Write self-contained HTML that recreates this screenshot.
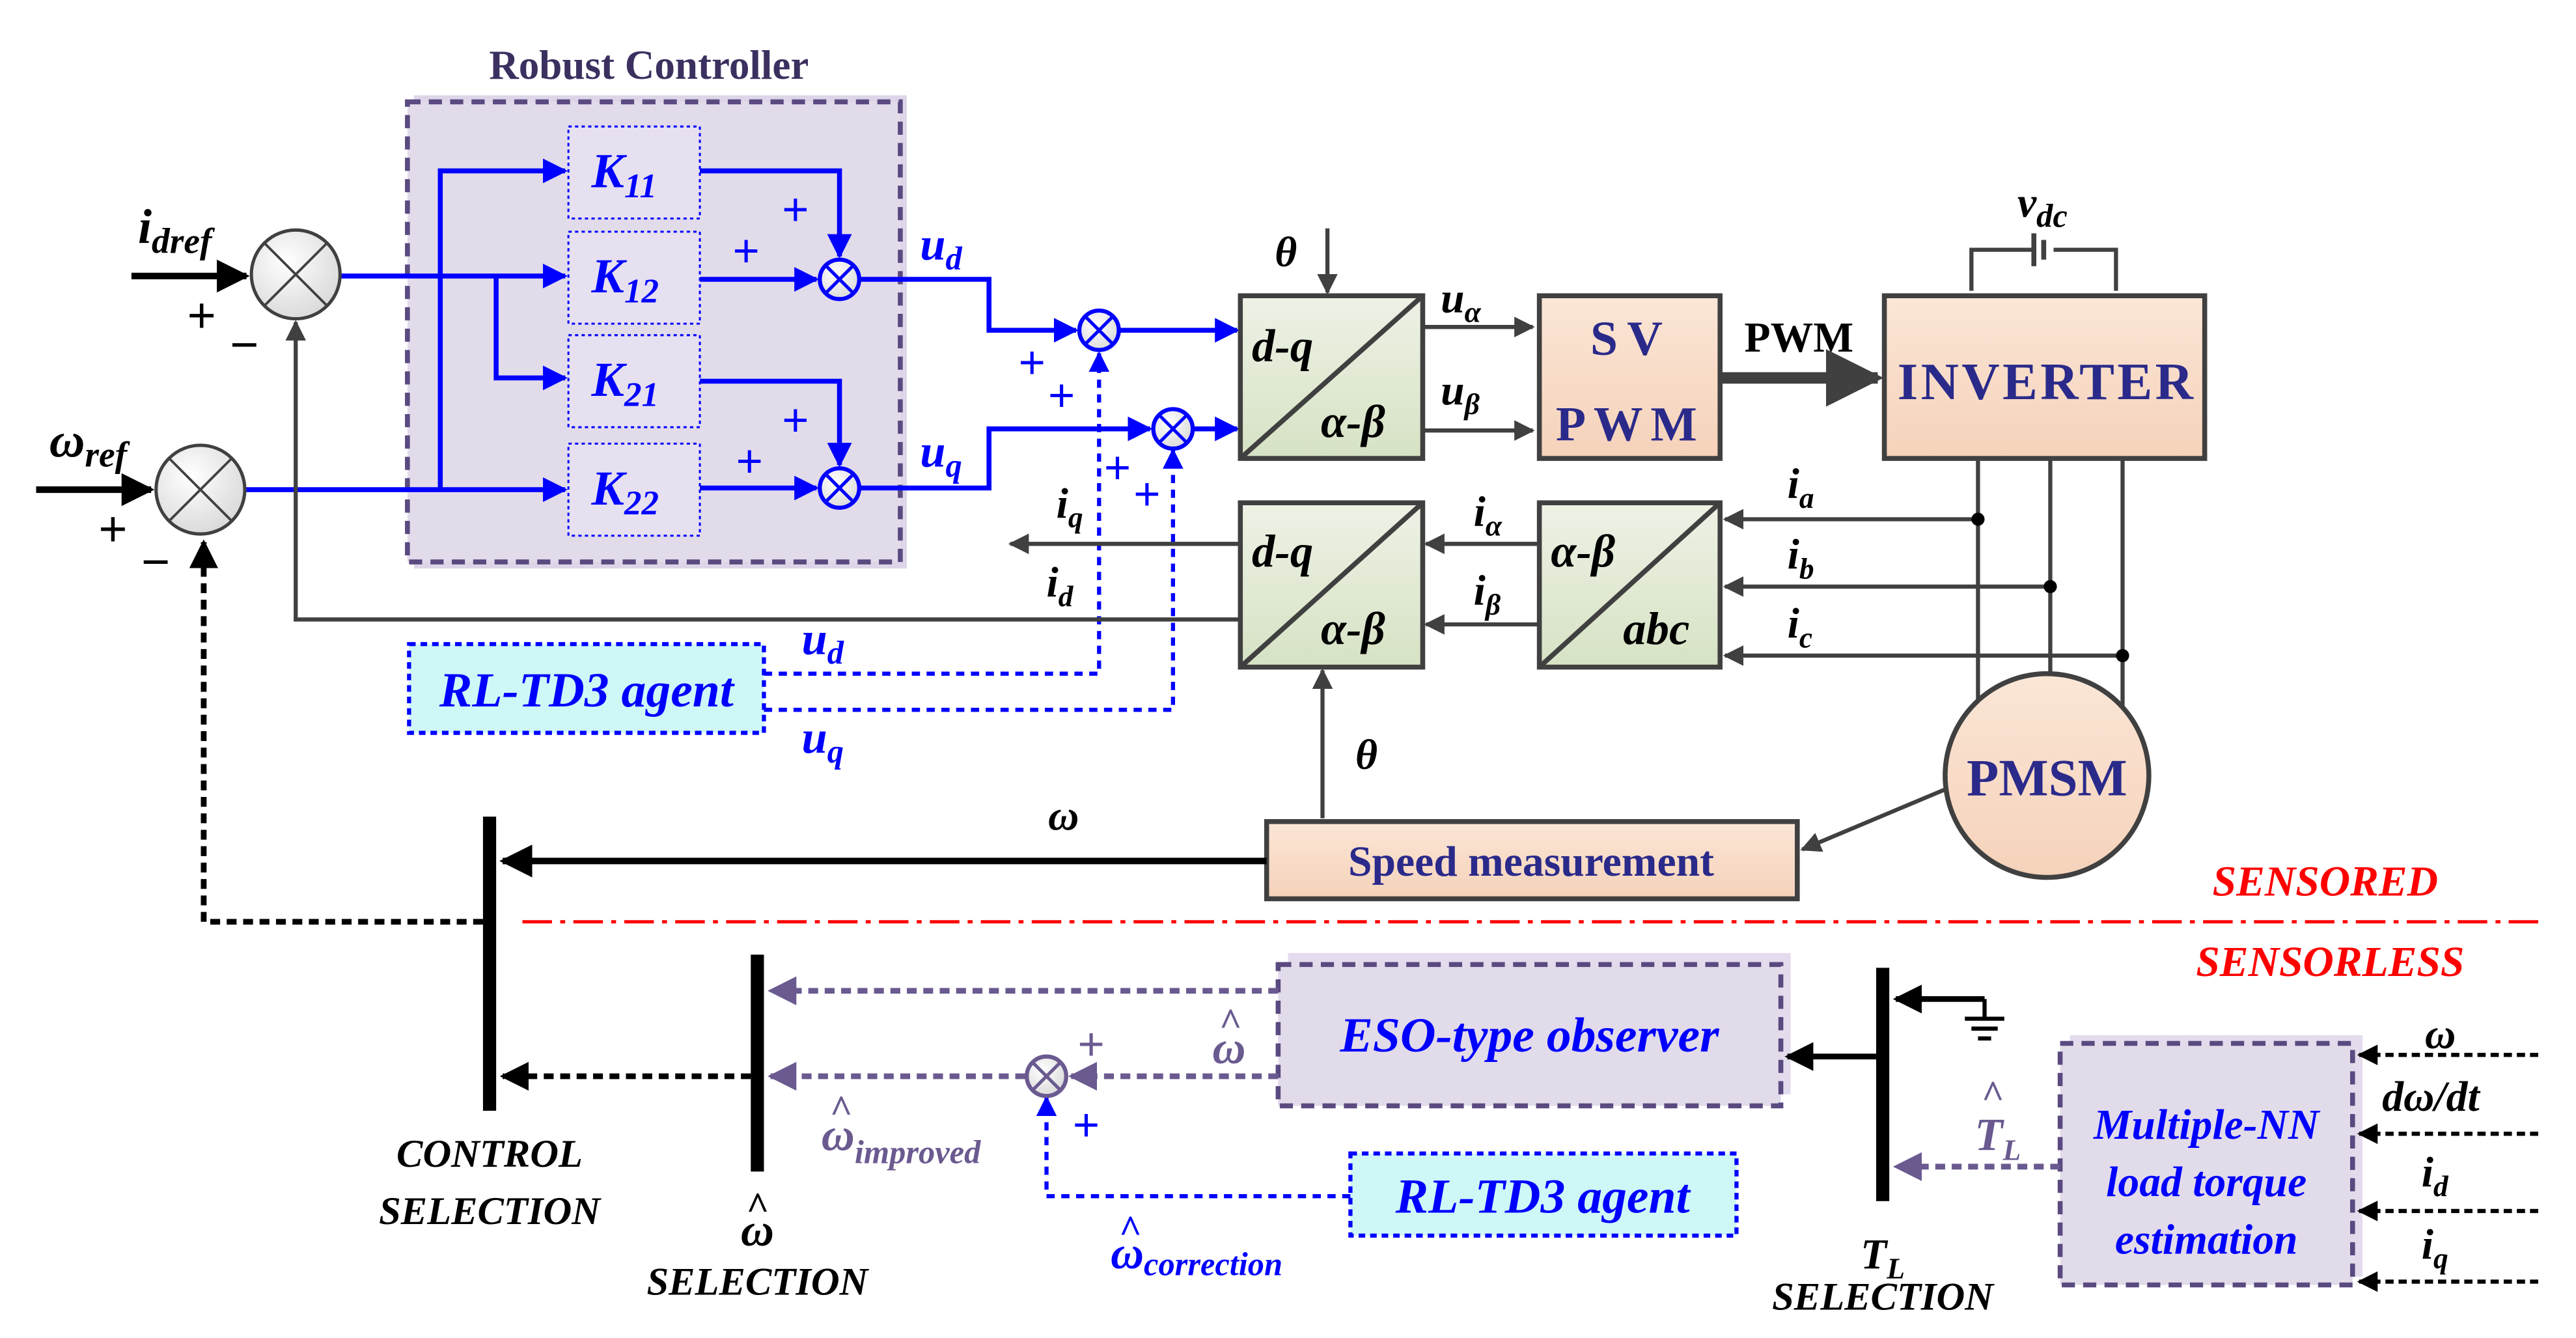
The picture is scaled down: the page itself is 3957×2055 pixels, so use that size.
<!DOCTYPE html>
<html><head><meta charset="utf-8"><style>html,body{margin:0;padding:0;background:#fff}svg{display:block}</style></head><body>
<svg width="3957" height="2055" viewBox="0 0 1568 814.3" preserveAspectRatio="none" xmlns="http://www.w3.org/2000/svg" font-family="Liberation Serif, serif">
<defs>
<marker id="ab" viewBox="0 0 10 10" refX="9" refY="5" markerWidth="5" markerHeight="5" orient="auto" markerUnits="strokeWidth"><path d="M0,0L10,5L0,10z" fill="#0000ff"/></marker>
<marker id="ak" viewBox="0 0 10 10" refX="9" refY="5" markerWidth="5" markerHeight="5" orient="auto" markerUnits="strokeWidth"><path d="M0,0L10,5L0,10z" fill="#000"/></marker>
<marker id="ag" viewBox="0 0 10 10" refX="9" refY="5" markerWidth="5" markerHeight="5" orient="auto" markerUnits="strokeWidth"><path d="M0,0L10,5L0,10z" fill="#404040"/></marker>
<marker id="ap" viewBox="0 0 10 10" refX="9" refY="5" markerWidth="5" markerHeight="5" orient="auto" markerUnits="strokeWidth"><path d="M0,0L10,5L0,10z" fill="#6a5a90"/></marker>
<linearGradient id="gg" x1="0" y1="0" x2="0" y2="1"><stop offset="0" stop-color="#eef2e6"/><stop offset="1" stop-color="#d6e2c4"/></linearGradient>
<linearGradient id="og" x1="0" y1="0" x2="0" y2="1"><stop offset="0" stop-color="#fbe6d6"/><stop offset="1" stop-color="#f5d2ba"/></linearGradient>
<radialGradient id="cg" cx="0.4" cy="0.35" r="0.7"><stop offset="0" stop-color="#ffffff"/><stop offset="1" stop-color="#d8d8d8"/></radialGradient>
</defs>

<text x="395" y="48" font-size="25" font-weight="bold" fill="#3c3060" text-anchor="middle">Robust Controller</text>
<rect x="252" y="58" width="300" height="288" fill="#ddd6e8"/>
<rect x="248" y="62" width="300" height="280" fill="#e2dbea" stroke="#5a4a80" stroke-width="3" stroke-dasharray="8,5"/>
<g font-size="30" font-weight="bold" font-style="italic" fill="#0000ff">
<rect x="346" y="77" width="80" height="56" fill="#e6e0f0" stroke="#0000ff" stroke-width="1.2" stroke-dasharray="2,2"/>
<text x="360" y="114">K<tspan font-size="21" dy="6">11</tspan></text>
<rect x="346" y="141" width="80" height="56" fill="#e6e0f0" stroke="#0000ff" stroke-width="1.2" stroke-dasharray="2,2"/>
<text x="360" y="178">K<tspan font-size="21" dy="6">12</tspan></text>
<rect x="346" y="204" width="80" height="56" fill="#e6e0f0" stroke="#0000ff" stroke-width="1.2" stroke-dasharray="2,2"/>
<text x="360" y="241">K<tspan font-size="21" dy="6">21</tspan></text>
<rect x="346" y="270" width="80" height="56" fill="#e6e0f0" stroke="#0000ff" stroke-width="1.2" stroke-dasharray="2,2"/>
<text x="360" y="307">K<tspan font-size="21" dy="6">22</tspan></text>
</g>

<g stroke="#0000ff" stroke-width="3" fill="none">
<path d="M207,168H344" marker-end="url(#ab)"/>
<path d="M268,298V104H344" marker-end="url(#ab)"/>
<path d="M302,168V230H344" marker-end="url(#ab)"/>
<path d="M149,298H344" marker-end="url(#ab)"/>
<path d="M426,104H511V156" marker-end="url(#ab)"/>
<path d="M426,170H497" marker-end="url(#ab)"/>
<path d="M426,232H511V283" marker-end="url(#ab)"/>
<path d="M426,297H497" marker-end="url(#ab)"/>
<path d="M523,170H602V201H655" marker-end="url(#ab)"/>
<path d="M523,297H602V261H700" marker-end="url(#ab)"/>
<path d="M681,201H753" marker-end="url(#ab)"/>
<path d="M726,261H753" marker-end="url(#ab)"/>
</g>
<g stroke="#0000ff" stroke-width="2.5" fill="none" stroke-dasharray="5,4">
<path d="M465,410H669V215" marker-end="url(#ab)"/>
<path d="M465,432H714V274" marker-end="url(#ab)"/>
<path d="M822,728H637V668" marker-end="url(#ab)"/>
</g>
<g font-size="28" fill="#0000ff" font-family="Liberation Sans, sans-serif">
<text x="476" y="137">+</text><text x="446" y="162">+</text>
<text x="476" y="265">+</text><text x="448" y="290">+</text>
<text x="620" y="230">+</text><text x="638" y="250">+</text>
<text x="672" y="294">+</text><text x="690" y="310">+</text>
<text x="653" y="694">+</text>
</g>

<g stroke="#0000ff" stroke-width="2.5" fill="url(#cg)">
<circle cx="511" cy="170" r="12"/><circle cx="511" cy="297" r="12"/>
<circle cx="669" cy="201" r="12"/><circle cx="714" cy="261" r="12"/>
</g>
<g stroke="#0000ff" stroke-width="2">
<path d="M503,162L519,178M519,162L503,178M503,289L519,305M519,289L503,305M661,193L677,209M677,193L661,209M706,253L722,269M722,253L706,269"/>
</g>

<g stroke="#404040" stroke-width="2" fill="url(#cg)">
<circle cx="180" cy="167" r="27"/><circle cx="122" cy="298" r="27"/>
</g>
<path d="M161,148L199,186M199,148L161,186M103,279L141,317M141,279L103,317" stroke="#404040" stroke-width="1.5"/>
<path d="M80,168H150" stroke="#000" stroke-width="4" marker-end="url(#ak)"/>
<path d="M22,298H92" stroke="#000" stroke-width="4" marker-end="url(#ak)"/>
<g font-size="30" font-weight="bold" font-style="italic">
<text x="84" y="148">i<tspan font-size="22" dy="6">dref</tspan></text>
<text x="30" y="278">ω<tspan font-size="22" dy="6">ref</tspan></text>
</g>
<g font-size="30" font-family="Liberation Sans, sans-serif"><text x="114" y="202">+</text><text x="140" y="220">−</text><text x="60" y="332">+</text><text x="86" y="352">−</text></g>

<g stroke="#404040" stroke-width="2.5" fill="none">
<path d="M755,377H180V196" marker-end="url(#ag)"/>
<path d="M755,331H615" marker-end="url(#ag)"/>
<path d="M808,139V178" marker-end="url(#ag)"/>
<path d="M805,498V408" marker-end="url(#ag)"/>
<path d="M866,199H933" marker-end="url(#ag)"/>
<path d="M866,262H933" marker-end="url(#ag)"/>
<path d="M937,331H868" marker-end="url(#ag)"/>
<path d="M937,380H868" marker-end="url(#ag)"/>
<path d="M1204,316H1050" marker-end="url(#ag)"/>
<path d="M1248,357H1050" marker-end="url(#ag)"/>
<path d="M1292,399H1050" marker-end="url(#ag)"/>
<path d="M1204,279V440M1248,279V412M1292,279V440"/>
<path d="M1200,177V152H1238M1250,152H1288V177"/>
<path d="M1238,142V162M1244,146V158" stroke-width="3"/>
<path d="M1185,480L1097,517" marker-end="url(#ag)"/>
</g>
<g fill="#000"><circle cx="1204" cy="316" r="4"/><circle cx="1248" cy="357" r="4"/><circle cx="1292" cy="399" r="4"/></g>
<path d="M1047,230H1143" stroke="#404040" stroke-width="7" marker-end="url(#ag)"/>

<g stroke="#404040" stroke-width="3">
<rect x="755" y="180" width="111" height="99" fill="url(#gg)"/>
<rect x="755" y="306" width="111" height="100" fill="url(#gg)"/>
<rect x="937" y="306" width="110" height="100" fill="url(#gg)"/>
<rect x="937" y="180" width="110" height="99" fill="url(#og)"/>
<rect x="1147" y="180" width="195" height="99" fill="url(#og)"/>
<circle cx="1246" cy="472" r="62" fill="url(#og)"/>
<rect x="771" y="500" width="323" height="47" fill="url(#og)"/>
<path d="M755,279L866,180M755,406L866,306M937,406L1047,306" fill="none"/>
</g>
<g font-size="28" font-weight="bold" font-style="italic">
<text x="762" y="220">d-q</text><text x="804" y="266">α-β</text>
<text x="762" y="345">d-q</text><text x="804" y="392">α-β</text>
<text x="944" y="345">α-β</text><text x="988" y="392">abc</text>
</g>
<g font-weight="bold" fill="#2a2a8a">
<text x="990" y="216" font-size="30" text-anchor="middle" textLength="44">SV</text>
<text x="990" y="268" font-size="30" text-anchor="middle" textLength="86">PWM</text>
<text x="1245" y="243" font-size="32" text-anchor="middle" textLength="180">INVERTER</text>
<text x="1246" y="484" font-size="32" text-anchor="middle">PMSM</text>
<text x="932" y="533" font-size="26" text-anchor="middle">Speed measurement</text>
</g>
<text x="1095" y="214" font-size="26" font-weight="bold" text-anchor="middle">PWM</text>
<g font-size="26" font-weight="bold" font-style="italic">
<text x="776" y="162">θ</text><text x="825" y="468">θ</text>
<text x="1228" y="132">v<tspan font-size="20" dy="6">dc</tspan></text>
<text x="877" y="190">u<tspan font-size="18" dy="6">α</tspan></text>
<text x="877" y="246">u<tspan font-size="18" dy="6">β</tspan></text>
<text x="897" y="320">i<tspan font-size="18" dy="6">α</tspan></text>
<text x="897" y="368">i<tspan font-size="18" dy="6">β</tspan></text>
<text x="1088" y="303">i<tspan font-size="18" dy="6">a</tspan></text>
<text x="1088" y="346">i<tspan font-size="18" dy="6">b</tspan></text>
<text x="1088" y="388">i<tspan font-size="18" dy="6">c</tspan></text>
<text x="643" y="315">i<tspan font-size="18" dy="6">q</tspan></text>
<text x="637" y="363">i<tspan font-size="18" dy="6">d</tspan></text>
<text x="638" y="505">ω</text>
</g>
<g font-size="28" font-weight="bold" font-style="italic" fill="#0000ff">
<text x="560" y="158">u<tspan font-size="20" dy="6">d</tspan></text>
<text x="560" y="284">u<tspan font-size="20" dy="6">q</tspan></text>
<text x="488" y="398">u<tspan font-size="20" dy="6">d</tspan></text>
<text x="488" y="458">u<tspan font-size="20" dy="6">q</tspan></text>
</g>

<rect x="249" y="392" width="216" height="54" fill="#cff7f7" stroke="#0000ff" stroke-width="2.5" stroke-dasharray="4,3"/>
<text x="357" y="430" font-size="30" font-weight="bold" font-style="italic" fill="#0000ff" text-anchor="middle">RL-TD3 agent</text>
<rect x="822" y="702" width="235" height="50" fill="#cff7f7" stroke="#0000ff" stroke-width="2.5" stroke-dasharray="4,3"/>
<text x="939" y="738" font-size="30" font-weight="bold" font-style="italic" fill="#0000ff" text-anchor="middle">RL-TD3 agent</text>

<rect x="294" y="497" width="8" height="179" fill="#000"/>
<rect x="457" y="581" width="8" height="132" fill="#000"/>
<rect x="1142" y="589" width="8" height="142" fill="#000"/>
<path d="M771,524H306" stroke="#000" stroke-width="4" marker-end="url(#ak)"/>
<path d="M294,561H124V330" stroke="#000" stroke-width="3.5" fill="none" stroke-dasharray="6,4" marker-end="url(#ak)"/>
<path d="M457,655H306" stroke="#000" stroke-width="3.5" fill="none" stroke-dasharray="6,4" marker-end="url(#ak)"/>
<path d="M318,561H1545" stroke="#ff0000" stroke-width="2" stroke-dasharray="18,5,3,5"/>
<g font-size="26" font-weight="bold" font-style="italic" fill="#ff0000">
<text x="1484" y="545" text-anchor="end">SENSORED</text>
<text x="1500" y="594" text-anchor="end">SENSORLESS</text>
</g>

<rect x="784" y="580" width="306" height="86" fill="#e4dced"/>
<rect x="778" y="587" width="306" height="86" fill="#e2dbea" stroke="#5a4a80" stroke-width="3" stroke-dasharray="8,5"/>
<text x="931" y="640" font-size="30" font-weight="bold" font-style="italic" fill="#0000ff" text-anchor="middle">ESO-type observer</text>
<rect x="1260" y="630" width="178" height="147" fill="#e4dced"/>
<rect x="1254" y="635" width="178" height="147" fill="#e2dbea" stroke="#5a4a80" stroke-width="3" stroke-dasharray="8,5"/>
<g font-size="26" font-weight="bold" font-style="italic" fill="#0000ff" text-anchor="middle">
<text x="1343" y="693">Multiple-NN</text><text x="1343" y="728">load torque</text><text x="1343" y="763">estimation</text>
</g>
<g stroke="#6a5a90" stroke-width="3.5" fill="none" stroke-dasharray="6,4">
<path d="M778,603H469" marker-end="url(#ap)"/>
<path d="M778,655H652" marker-end="url(#ap)"/>
<path d="M624,655H469" marker-end="url(#ap)"/>
<path d="M1254,710H1154" marker-end="url(#ap)"/>
</g>
<circle cx="637" cy="655" r="12" fill="url(#cg)" stroke="#6a5a90" stroke-width="2.5"/>
<path d="M629,647L645,663M645,647L629,663" stroke="#6a5a90" stroke-width="2"/>
<text x="656" y="645" font-size="28" fill="#6a5a90" font-family="Liberation Sans, sans-serif">+</text>
<path d="M1142,643H1088" stroke="#000" stroke-width="3.5" marker-end="url(#ak)"/>
<path d="M1208,608H1154" stroke="#000" stroke-width="3.5" marker-end="url(#ak)"/>
<path d="M1208,608V620M1196,620H1220M1200,626H1216M1204,632H1212" stroke="#000" stroke-width="2.5"/>
<g stroke="#000" stroke-width="2.5" stroke-dasharray="5,3" fill="none">
<path d="M1545,642H1436" marker-end="url(#ak)"/>
<path d="M1545,690H1436" marker-end="url(#ak)"/>
<path d="M1545,737H1436" marker-end="url(#ak)"/>
<path d="M1545,780H1436" marker-end="url(#ak)"/>
</g>
<g font-size="26" font-weight="bold" font-style="italic">
<text x="1476" y="638">ω</text><text x="1450" y="676">dω/dt</text>
<text x="1474" y="722">i<tspan font-size="18" dy="6">d</tspan></text>
<text x="1474" y="766">i<tspan font-size="18" dy="6">q</tspan></text>
</g>
<g font-size="28" font-weight="bold" font-style="italic" fill="#6a5a90">
<text x="738" y="647">ω</text><text x="742" y="630" font-size="24">^</text>
<text x="500" y="700">ω<tspan font-size="20" dy="8">improved</tspan></text><text x="505" y="683" font-size="24">^</text>
<text x="1202" y="700">T<tspan font-size="18" dy="6">L</tspan></text><text x="1206" y="674" font-size="24">^</text>
</g>
<g font-size="28" font-weight="bold" font-style="italic" fill="#0000ff">
<text x="676" y="772">ω<tspan font-size="20" dy="4">correction</tspan></text><text x="681" y="756" font-size="24">^</text>
</g>
<g font-size="24" font-weight="bold" font-style="italic" text-anchor="middle">
<text x="298" y="710">CONTROL</text><text x="298" y="745">SELECTION</text>
<text x="461" y="758" font-size="28">ω</text><text x="461" y="742" font-size="24">^</text>
<text x="461" y="788">SELECTION</text>
<text x="1146" y="772" font-size="26">T<tspan font-size="18" dy="6">L</tspan></text>
<text x="1146" y="797">SELECTION</text>
</g>
</svg>
</body></html>
